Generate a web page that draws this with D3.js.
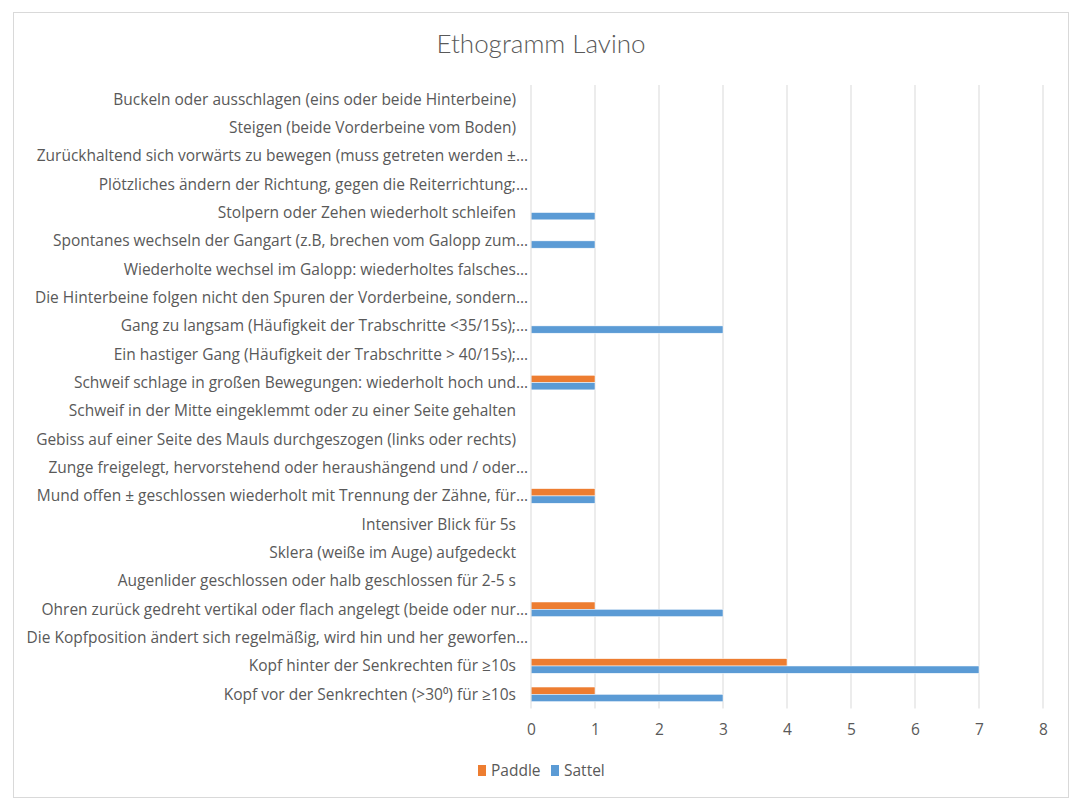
<!DOCTYPE html>
<html>
<head>
<meta charset="utf-8">
<script src="https://cdn.jsdelivr.net/npm/d3@7"></script>
<style>
  body { margin: 0; background: #fff; }
  svg text { font-family: "Open Sans", Lato, sans-serif; fill: #595959; }
</style>
</head>
<body>
<svg id="chart" width="1081" height="811"></svg>
<script>
// categories, top to bottom
const categories = [
  "Buckeln oder ausschlagen (eins oder beide Hinterbeine)",
  "Steigen (beide Vorderbeine vom Boden)",
  "Zurückhaltend sich vorwärts zu bewegen (muss getreten werden ±…",
  "Plötzliches ändern der Richtung, gegen die Reiterrichtung;…",
  "Stolpern oder Zehen wiederholt schleifen",
  "Spontanes wechseln der Gangart (z.B, brechen vom Galopp zum…",
  "Wiederholte wechsel im Galopp: wiederholtes falsches…",
  "Die Hinterbeine folgen nicht den Spuren der Vorderbeine, sondern…",
  "Gang zu langsam (Häufigkeit der Trabschritte <35/15s);…",
  "Ein hastiger Gang (Häufigkeit der Trabschritte > 40/15s);…",
  "Schweif schlage in großen Bewegungen: wiederholt hoch und…",
  "Schweif in der Mitte eingeklemmt oder zu einer Seite gehalten",
  "Gebiss auf einer Seite des Mauls durchgeszogen (links oder rechts)",
  "Zunge freigelegt, hervorstehend oder heraushängend und / oder…",
  "Mund offen ± geschlossen wiederholt mit Trennung der Zähne, für…",
  "Intensiver Blick für 5s",
  "Sklera (weiße im Auge) aufgedeckt",
  "Augenlider geschlossen oder halb geschlossen für 2-5 s",
  "Ohren zurück gedreht vertikal oder flach angelegt (beide oder nur…",
  "Die Kopfposition ändert sich regelmäßig, wird hin und her geworfen…",
  "Kopf hinter der Senkrechten für ≥10s",
  "Kopf vor der Senkrechten (>30⁰) für ≥10s"
];
const paddle = [0, 0, 0, 0, 0, 0, 0, 0, 0, 0, 1, 0, 0, 0, 1, 0, 0, 0, 1, 0, 4, 1];
const sattel = [0, 0, 0, 0, 1, 1, 0, 0, 3, 0, 1, 0, 0, 0, 1, 0, 0, 0, 3, 0, 7, 3];
const xTicks = [0, 1, 2, 3, 4, 5, 6, 7, 8];
const seriesNames = ["Paddle", "Sattel"];
const colors = { Paddle: "#ED7D31", Sattel: "#5B9BD5" };

const svg = d3.select("#chart");

// chart frame
svg.append("rect")
  .attr("x", 13.5).attr("y", 12.5)
  .attr("width", 1055).attr("height", 785)
  .attr("fill", "#fff")
  .attr("stroke", "#d9d9d9");

svg.append("text")
  .attr("x", 541).attr("y", 53)
  .attr("text-anchor", "middle")
  .attr("font-size", 26)
  .attr("font-weight", 300)
  .style("font-family", "Lato, sans-serif")
  .text("Ethogramm Lavino");

const x = d3.scaleLinear().domain([0, 8]).range([531, 1043]);
const y = d3.scaleBand().domain(categories).range([85, 708.5]);
const inner = d3.scaleBand().domain(seriesNames).range([0, y.bandwidth()]).paddingInner(0).paddingOuter(0.94);

// gridlines
svg.append("g")
  .selectAll("line")
  .data(xTicks.slice(1))
  .join("line")
  .attr("x1", d => x(d)).attr("x2", d => x(d))
  .attr("y1", 85).attr("y2", 708.5)
  .attr("stroke", "#d9d9d9");

// rows
const rows = categories.map((c, i) => ({ cat: c, Paddle: paddle[i], Sattel: sattel[i] }));

const groups = svg.append("g")
  .selectAll("g")
  .data(rows)
  .join("g")
  .attr("transform", d => `translate(0,${y(d.cat)})`);

groups.selectAll("rect")
  .data(d => seriesNames.map(s => ({ s, v: d[s] })).filter(e => e.v > 0))
  .join("rect")
  .attr("x", x(0))
  .attr("y", e => inner(e.s))
  .attr("width", e => x(e.v) - x(0))
  .attr("height", inner.bandwidth())
  .attr("fill", e => colors[e.s])
  .attr("stroke", "#fff")
  .attr("stroke-width", 0.5);

// category axis line
svg.append("line")
  .attr("x1", x(0)).attr("x2", x(0))
  .attr("y1", 85).attr("y2", 708.5)
  .attr("stroke", "#d9d9d9");

// category labels (truncated ones sit a little further right, like Excel)
svg.append("g")
  .selectAll("text")
  .data(categories)
  .join("text")
  .attr("x", d => d.endsWith("…") ? 528 : 516)
  .attr("y", d => y(d) + y.bandwidth() / 2)
  .attr("dy", "0.35em")
  .attr("text-anchor", "end")
  .attr("font-size", 15.5)
  .text(d => d);

// value axis
const xAxis = d3.axisBottom(x).tickValues(xTicks).tickSize(0).tickPadding(0);
svg.append("g")
  .attr("transform", "translate(0,724)")
  .call(xAxis)
  .call(g => g.select(".domain").remove())
  .call(g => g.selectAll("text")
    .attr("font-size", 15.5)
    .attr("fill", "#595959")
    .style("font-family", "'Open Sans', Lato, sans-serif"));

// legend
const legend = svg.append("g").attr("transform", "translate(478,765)");
const legendX = [0, 73];
seriesNames.forEach((s, i) => {
  const g = legend.append("g").attr("transform", `translate(${legendX[i]},0)`);
  g.append("rect").attr("width", 8).attr("height", 11).attr("fill", colors[s]);
  g.append("text").attr("x", 13).attr("y", 5.5).attr("dy", "0.35em")
    .attr("font-size", 15.5).text(s);
});
</script>
</body>
</html>
